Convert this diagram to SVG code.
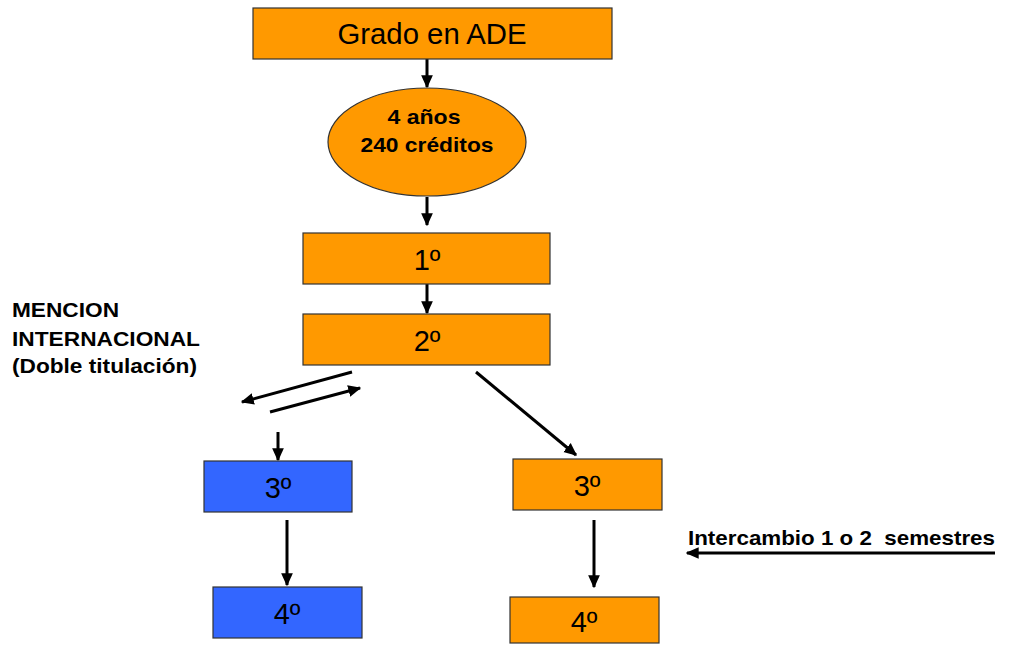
<svg xmlns="http://www.w3.org/2000/svg" width="1011" height="646" viewBox="0 0 1011 646">
<style>
.o{fill:#FF9900;stroke:#333;stroke-width:1.2}
.b{fill:#3366FF;stroke:#333;stroke-width:1.2}
.t{font-family:"Liberation Sans",Arial,sans-serif;font-size:29px;fill:#000;text-anchor:middle}
.bt{font-family:"Liberation Sans",Arial,sans-serif;font-size:21px;font-weight:bold;fill:#000;white-space:pre}
.c{stroke:#000;stroke-width:3;fill:none;marker-end:url(#ah)}
</style>
<defs>
<marker id="ah" viewBox="0 0 10 10" refX="9" refY="5" markerUnits="userSpaceOnUse" markerWidth="13" markerHeight="13" orient="auto">
<path d="M0,0.5 L10,5 L0,9.5 z" fill="#000"/>
</marker>
</defs>
<rect width="1011" height="646" fill="#fff"/>
<g id="connectors">
<line class="c" x1="427" y1="59" x2="427" y2="87"/>
<line class="c" x1="427" y1="197" x2="427" y2="225"/>
<line class="c" x1="427" y1="284" x2="427" y2="313"/>
<line class="c" x1="352" y1="372" x2="242" y2="402"/>
<line class="c" x1="270" y1="412" x2="360" y2="388"/>
<line class="c" x1="278" y1="432" x2="278" y2="460"/>
<line class="c" x1="476" y1="372" x2="576" y2="455"/>
<line class="c" x1="287" y1="520" x2="287" y2="585"/>
<line class="c" x1="594" y1="520" x2="594" y2="587"/>
<line class="c" x1="995" y1="553" x2="687" y2="553"/>
</g>
<g id="grado">
<rect class="o" x="253" y="8" width="359" height="51"/>
<text class="t" x="432" y="44" font-size="30" textLength="189" lengthAdjust="spacingAndGlyphs">Grado en ADE</text>
</g>
<g id="duracion">
<ellipse class="o" cx="427" cy="142" rx="99" ry="54"/>
<text class="bt" x="424" y="124" text-anchor="middle" textLength="73" lengthAdjust="spacingAndGlyphs">4 años</text>
<text class="bt" x="427" y="152" text-anchor="middle" textLength="133" lengthAdjust="spacingAndGlyphs">240 créditos</text>
</g>
<g id="primero">
<rect class="o" x="303" y="233" width="247" height="51"/>
<text class="t" x="427" y="270">1º</text>
</g>
<g id="segundo">
<rect class="o" x="303" y="314" width="247" height="51"/>
<text class="t" x="427" y="351">2º</text>
</g>
<g id="mencion">
<text class="bt" x="12" y="317" textLength="107" lengthAdjust="spacingAndGlyphs">MENCION</text>
<text class="bt" x="12" y="346" textLength="188" lengthAdjust="spacingAndGlyphs">INTERNACIONAL</text>
<text class="bt" x="12" y="373" textLength="185" lengthAdjust="spacingAndGlyphs">(Doble titulación)</text>
</g>
<g id="tercero-blue">
<rect class="b" x="204" y="461" width="148" height="51"/>
<text class="t" x="278" y="498">3º</text>
</g>
<g id="cuarto-blue">
<rect class="b" x="213" y="587" width="149" height="51"/>
<text class="t" x="287" y="624">4º</text>
</g>
<g id="tercero-orange">
<rect class="o" x="513" y="459" width="149" height="51"/>
<text class="t" x="587" y="496">3º</text>
</g>
<g id="cuarto-orange">
<rect class="o" x="510" y="597" width="149" height="46"/>
<text class="t" x="584" y="632">4º</text>
</g>
<g id="intercambio">
<text class="bt" x="688" y="545" textLength="307" lengthAdjust="spacingAndGlyphs">Intercambio 1 o 2  semestres</text>
</g>
</svg>
